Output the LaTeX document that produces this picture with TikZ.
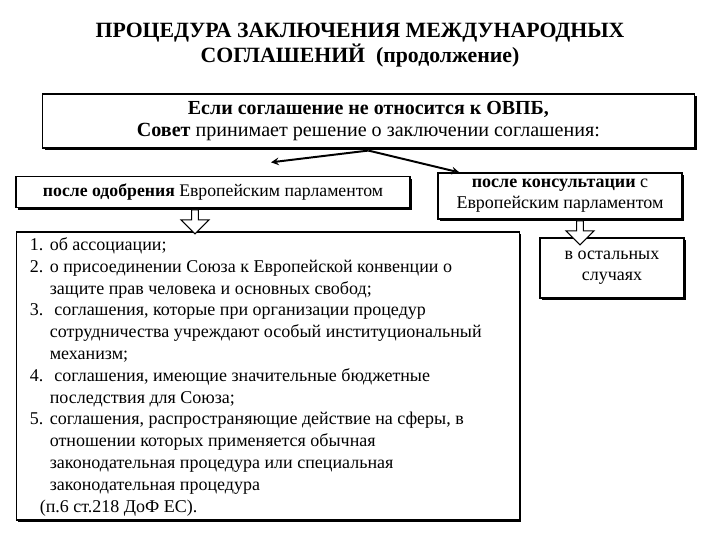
\documentclass[tikz,border=0pt]{standalone}
\usepackage{fontspec}
\setmainfont{Liberation Serif}
\usetikzlibrary{shadows,shapes.arrows,calc}
\newcommand*{\num}[1]{\makebox[0.5cm][l]{#1}}
\newcommand*{\ind}{\hspace*{0.5cm}}
\begin{document}
\begin{tikzpicture}
    \tikzstyle{block} = [rectangle, draw=black, thick, fill=white, drop shadow={shadow xshift=1.6pt, shadow yshift=-1.6pt, fill=black, opacity=1}, inner sep=2pt, text centered]
    \tikzstyle{arrow} = [line width=1.4pt, ->, >=stealth]
    \tikzstyle{hollow} = [single arrow, draw=black, thick, fill=white, shape border rotate=270, minimum height=0.6cm, minimum width=0.7cm, single arrow head extend=0.1cm, inner sep=0.5pt]

    \useasboundingbox (0,0) rectangle (18,13.5);

    \node (title) at (9,12.37) [align=center, font=\fontsize{15.5}{17.7}\selectfont\bfseries] {ПРОЦЕДУРА ЗАКЛЮЧЕНИЯ МЕЖДУНАРОДНЫХ\\СОГЛАШЕНИЙ \ (продолжение)};

    \node (council) at (9.21,10.475) [block, minimum width=16.3cm, minimum height=1.35cm, align=center] {{\fontsize{14.2}{16}\selectfont\bfseries Если соглашение не относится к ОВПБ,}\\[4pt]{\fontsize{14.3}{16}\selectfont\textbf{Совет} принимает решение о заключении соглашения:}};

    \node (approval) at (5.325,8.69) [block, minimum width=9.85cm, minimum height=0.775cm, font=\fontsize{12.6}{14}\selectfont] {\textbf{после одобрения} Европейским парламентом};

    \node (consult) at (14.0,8.6) [block, minimum width=6.1cm, minimum height=1.15cm, align=center, font=\fontsize{12.8}{15}\selectfont] {\textbf{после консультации} с\\Европейским парламентом};

    \node (cases) at (15.3,6.8) [block, minimum width=3.6cm, minimum height=1.5cm, align=center, font=\fontsize{12.8}{15}\selectfont] {в остальных\\случаях};

    \node (list) at (6.69,4.1) [block, minimum width=12.575cm, minimum height=7.2cm] {};

    \node (items) [anchor=north west, align=left, font=\fontsize{12.8}{15.5}\selectfont, inner sep=0pt] at ($(list.north west)+(0.35,-0.15)$) {%
        \num{1.}об ассоциации;\\
        \num{2.}о присоединении Союза к Европейской конвенции о\\
        \ind защите прав человека и основных свобод;\\
        \num{3.}\ соглашения, которые при организации процедур\\
        \ind сотрудничества учреждают особый институциональный\\
        \ind механизм;\\
        \num{4.}\ соглашения, имеющие значительные бюджетные\\
        \ind последствия для Союза;\\
        \num{5.}соглашения, распространяющие действие на сферы, в\\
        \ind отношении которых применяется обычная\\
        \ind законодательная процедура или специальная\\
        \ind законодательная процедура\\
        \hspace*{0.25cm}(п.6 ст.218 ДоФ ЕС).};

    \draw [arrow] ($(council.south)+(0,-0.05)$) -- ($(approval.north)+(1.45,0.35)$);
    \draw [arrow] ($(council.south)+(0,-0.05)$) -- ($(consult.north west)+(0.55,0)$);

    \node (down1) [hollow, anchor=tail] at ($(approval.south)+(-0.45,-0.02)$) {};
    \node (down2) [hollow, anchor=tail] at ($(consult.south)+(0.5,-0.02)$) {};

\end{tikzpicture}
\end{document}
